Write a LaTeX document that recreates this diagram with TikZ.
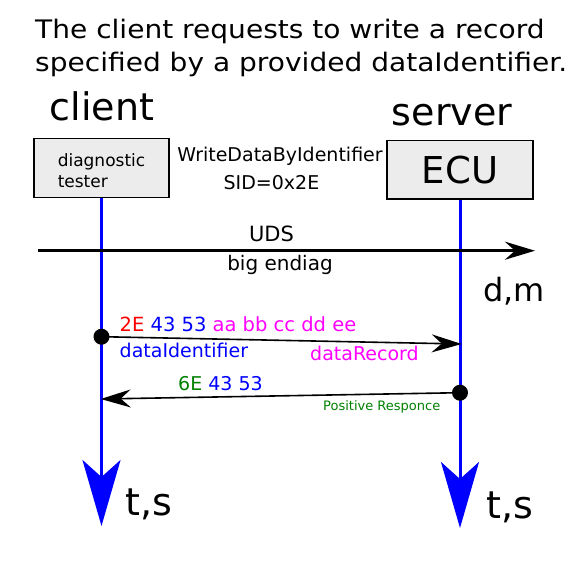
\documentclass[tikz,border=0pt]{standalone}
\usepackage{fontspec}
\setmainfont{DejaVu Sans}
\newfontfamily\titlefont[FakeStretch=1.1]{DejaVu Sans}
\usetikzlibrary{arrows.meta, positioning}
\definecolor{rspgreen}{RGB}{0,128,0}
\definecolor{recmagenta}{RGB}{255,0,255}
\definecolor{boxgray}{RGB}{236,236,236}

\begin{document}
\begin{tikzpicture}[x=1pt, y=-1pt, >={Stealth[length=30pt, width=18pt, inset=10pt]}]
\tikzset{
  party/.style={draw, fill=boxgray, line width=1.3pt, inner sep=0pt},
  lifeline/.style={blue, line width=3pt, -{Stealth[length=66pt, width=38pt, inset=17pt]}},
  msg/.style={line width=1.6pt, ->},
  txt/.style={inner sep=0pt, anchor=base west},
  dotmark/.style={circle, fill=black, inner sep=0pt, minimum size=16pt},
}
\useasboundingbox (0,0) rectangle (587,563);
% title
\node[txt, font=\titlefont\fontsize{25.5}{29}\selectfont] (title1) at (35,38) {The client requests to write a record};
\node[txt, font=\titlefont\fontsize{25.5}{29}\selectfont] (title2) at (35,71.7) {specified by a provided dataIdentifier.};
% client and server
\node[txt, anchor=base, font=\fontsize{38}{40}\selectfont] (clientlbl) at (102,120) {client};
\node[txt, anchor=base, font=\fontsize{38}{40}\selectfont] (serverlbl) at (452,125) {server};
\node[party, minimum width=135pt, minimum height=59pt, text height=39.4pt, align=left,
      font=\fontsize{17}{21}\selectfont] (tester) at (101.5,168.3) {diagnostic\\tester};
\node[party, minimum width=146pt, minimum height=58.3pt, font=\fontsize{37}{40}\selectfont] (ecu) at (460,169.9) {ECU};
\node[txt, anchor=base, font=\fontsize{19}{22}\selectfont] (service) at (280,161.7) {WriteDataByIdentifier};
\node[txt, anchor=base, font=\fontsize{19}{22}\selectfont] (sid) at (271.5,189) {SID=0x2E};
% lifelines
\coordinate (testerend) at (101.5,526);
\coordinate (ecuend) at (460,528);
\draw[lifeline] (tester.south) -- (testerend);
\draw[lifeline] (ecu.south) -- (ecuend);
% distance axis
\coordinate (udsstart) at (38,250.7);
\coordinate (udsend) at (535,250.7);
\draw[line width=3.3pt, ->] (udsstart) -- (udsend);
\node[txt, anchor=base, font=\fontsize{21}{24}\selectfont] (uds) at (271.5,241.7) {UDS};
\node[txt, anchor=base, font=\fontsize{20}{24}\selectfont] (endian) at (280,270) {big endiag};
\node[txt, font=\fontsize{32}{34}\selectfont] (dm) at (483,301.7) {d,m};
% request
\node[dotmark] (reqdot) at (101.5,336.7) {};
\coordinate (reqend) at (461.7,344);
\draw[msg] (reqdot.center) -- (reqend);
\node[txt, font=\fontsize{19.5}{22}\selectfont] (reqbytes) at (119.5,331.7)
  {\textcolor{red}{2E} \textcolor{blue}{43 53} \textcolor{recmagenta}{aa bb cc dd ee}};
\node[txt, blue, font=\fontsize{19}{22}\selectfont] (didlbl) at (119.5,357) {dataIdentifier};
\node[txt, recmagenta, font=\fontsize{19}{22}\selectfont] (reclbl) at (310,360) {dataRecord};
% response
\node[dotmark] (respdot) at (460,392.7) {};
\coordinate (respend) at (100.7,399);
\draw[msg] (respdot.center) -- (respend);
\node[txt, font=\fontsize{19}{22}\selectfont] (respbytes) at (178,390)
  {\textcolor{rspgreen}{6E} \textcolor{blue}{43 53}};
\node[txt, rspgreen, font=\fontsize{13}{15}\selectfont] (posresp) at (323,410.7) {Positive Responce};
% time axes
\node[txt, font=\fontsize{38}{40}\selectfont] (tsleft) at (125,515) {t,s};
\node[txt, font=\fontsize{38}{40}\selectfont] (tsright) at (486.7,518) {t,s};
\end{tikzpicture}
\end{document}
